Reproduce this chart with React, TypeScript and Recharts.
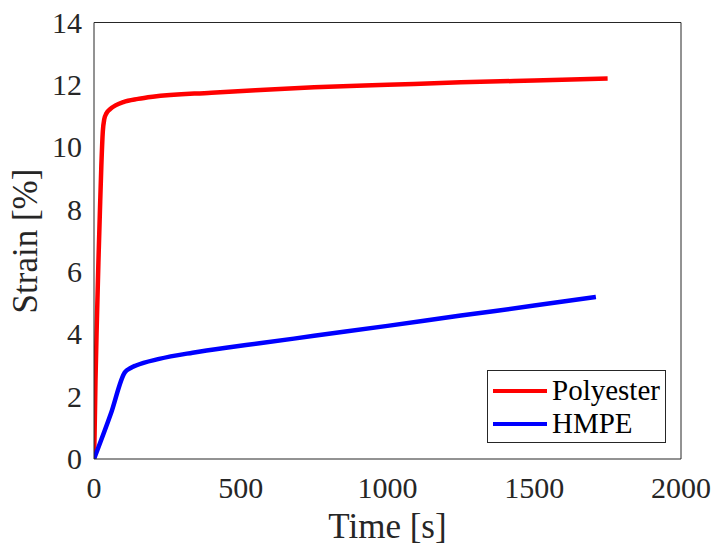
import { LineChart, Line, XAxis, YAxis, Legend, Label } from 'recharts';

// Polyester creep curve
const polyTime = [0, 2, 5, 10, 15, 20, 25, 30, 35, 42, 55, 75, 100, 150, 200, 400, 550, 750, 1000, 1250, 1500, 1750];
const polyStrain = [0, 0.8, 2.5, 4.5, 6.3, 7.9, 9.4, 10.5, 10.9, 11.08, 11.22, 11.35, 11.45, 11.55, 11.62, 11.75, 11.83, 11.92, 12.0, 12.08, 12.14, 12.2];

// HMPE creep curve
const hmpeTime = [0, 57, 105, 125, 143, 222, 336, 450, 564, 750, 1000, 1250, 1500, 1710];
const hmpeStrain = [0, 1.44, 2.78, 2.92, 3.0, 3.21, 3.41, 3.57, 3.71, 3.95, 4.27, 4.6, 4.92, 5.2];

const xTicks = [0, 500, 1000, 1500, 2000];
const yTicks = [0, 2, 4, 6, 8, 10, 12, 14];

const polyData = polyTime.map((t, i) => ({ t, s: polyStrain[i] }));
const hmpeData = hmpeTime.map((t, i) => ({ t, s: hmpeStrain[i] }));

const AXIS = '#262626';
const FONT = '"Liberation Serif", "Times New Roman", Times, serif';

const series = [
  { name: 'Polyester', color: '#ff0000' },
  { name: 'HMPE', color: '#0000ff' },
];

function TickText(props: any) {
  const { x, y, payload, textAnchor, dy } = props;
  return (
    <text x={x} y={y} dy={dy} textAnchor={textAnchor} fill={AXIS} fontSize={30} style={{ fontFamily: FONT }}>
      {payload.value}
    </text>
  );
}

function XTick(props: any) {
  return <TickText {...props} textAnchor="middle" dy={21} />;
}

function YTick(props: any) {
  return <TickText {...props} textAnchor="end" dy={10} />;
}

function LegendBox() {
  return (
    <div
      style={{
        width: 177,
        height: 71,
        border: `1px solid ${AXIS}`,
        background: '#fff',
        position: 'relative',
      }}
    >
      {series.map((s, i) => (
        <div
          key={s.name}
          style={{ position: 'absolute', left: 5, top: 3 + i * 33, height: 33, display: 'flex', alignItems: 'center' }}
        >
          <span style={{ display: 'inline-block', width: 54, height: 4, background: s.color, marginRight: 5 }} />
          <span style={{ lineHeight: '33px', fontFamily: FONT, fontSize: 29, color: '#000' }}>{s.name}</span>
        </div>
      ))}
    </div>
  );
}

export default function App() {
  return (
    <div style={{ width: 714, height: 545, background: '#fff', fontFamily: FONT }}>
      <style>{`body{margin:0}`}</style>
      <LineChart width={714} height={545} margin={{ top: 22.5, right: 33, bottom: 0, left: 0 }}>
        {/* inward tick marks on all four sides */}
        <XAxis xAxisId="bt" type="number" dataKey="t" domain={[0, 2000]} ticks={xTicks} allowDataOverflow
          orientation="bottom" height={1} mirror tick={false} tickSize={6} axisLine={false} stroke={AXIS} />
        <XAxis xAxisId="top" type="number" dataKey="t" domain={[0, 2000]} ticks={xTicks} allowDataOverflow
          orientation="top" height={1} mirror tick={false} tickSize={6} stroke={AXIS} />
        <YAxis yAxisId="lt" type="number" domain={[0, 14]} ticks={yTicks} allowDataOverflow
          orientation="left" width={1} mirror tick={false} tickSize={6} axisLine={false} stroke={AXIS} />
        <YAxis yAxisId="right" type="number" domain={[0, 14]} ticks={yTicks} allowDataOverflow
          orientation="right" width={1} mirror tick={false} tickSize={6} stroke={AXIS} />

        <XAxis xAxisId="b" type="number" dataKey="t" domain={[0, 2000]} ticks={xTicks} allowDataOverflow
          orientation="bottom" height={86} tickLine={false} tickSize={0} tickMargin={18} stroke={AXIS}
          tick={<XTick />}>
          <Label
            content={() => (
              <text x={387.5} y={538} textAnchor="middle" fill={AXIS} fontSize={35} style={{ fontFamily: FONT }}>
                Time [s]
              </text>
            )}
          />
        </XAxis>
        <YAxis yAxisId="l" type="number" domain={[0, 14]} ticks={yTicks} allowDataOverflow
          orientation="left" width={94} tickLine={false} tickSize={0} tickMargin={12} stroke={AXIS}
          tick={<YTick />}>
          <Label
            content={() => (
              <text x={37} y={241} transform="rotate(-90 37 241)" textAnchor="middle" fill={AXIS} fontSize={35} style={{ fontFamily: FONT }}>
                Strain [%]
              </text>
            )}
          />
        </YAxis>

        <Line xAxisId="b" yAxisId="l" data={polyData} dataKey="s" name="Polyester" stroke="#ff0000"
          strokeWidth={4.5} dot={false} type="monotone" isAnimationActive={false} />
        <Line xAxisId="b" yAxisId="l" data={hmpeData} dataKey="s" name="HMPE" stroke="#0000ff"
          strokeWidth={4.5} dot={false} type="monotone" isAnimationActive={false} />

        <Legend layout="vertical" align="center" verticalAlign="middle" content={() => <LegendBox />}
          wrapperStyle={{ position: 'absolute', left: 487, top: 370, width: 179, height: 73 }} />
      </LineChart>
    </div>
  );
}
